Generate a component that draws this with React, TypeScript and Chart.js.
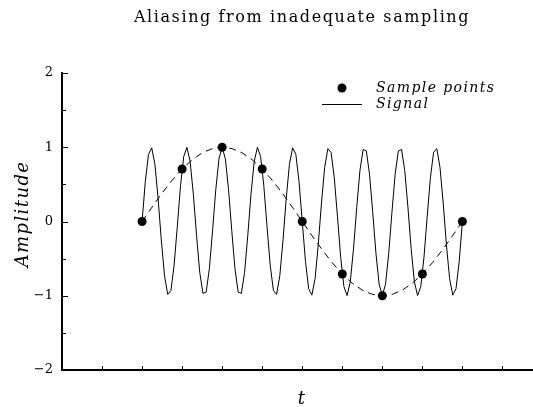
import React, { useEffect, useRef } from "react";
import { Chart, registerables } from "chart.js";

Chart.register(...registerables);

const titleText = "Aliasing from inadequate sampling";
const xTitle = "t";
const yTitle = "Amplitude";
const legendLabels = ["Sample points", "Signal"];

// sampled points
const sampleT = [0, 1, 2, 3, 4, 5, 6, 7, 8];
const sampleY = [0, 0.707, 1, 0.707, 0, -0.707, -1, -0.707, 0];

// high-frequency signal, read at a step of 0.08 in t
const signalStep = 0.08;
const signalY = [
  0, 0.536, 0.905, 0.992, 0.771, 0.309, -0.249, -0.729, -0.982, -0.93,
  -0.588, -0.063, 0.482, 0.876, 0.998, 0.809, 0.368, -0.187, -0.685, -0.969,
  -0.951, -0.637, -0.125, 0.426, 0.844, 1, 0.844, 0.426, -0.125, -0.637,
  -0.951, -0.969, -0.685, -0.187, 0.368, 0.809, 0.998, 0.876, 0.482, -0.063,
  -0.588, -0.93, -0.982, -0.729, -0.249, 0.309, 0.771, 0.992, 0.905, 0.536,
  0,
  -0.536, -0.905, -0.992, -0.771, -0.309, 0.249, 0.729, 0.982, 0.93,
  0.588, 0.063, -0.482, -0.876, -0.998, -0.809, -0.368, 0.187, 0.685, 0.969,
  0.951, 0.637, 0.125, -0.426, -0.844, -1, -0.844, -0.426, 0.125, 0.637,
  0.951, 0.969, 0.685, 0.187, -0.368, -0.809, -0.998, -0.876, -0.482, 0.063,
  0.588, 0.93, 0.982, 0.729, 0.249, -0.309, -0.771, -0.992, -0.905, -0.536,
  0,
];

// alias (dashed) curve
const aliasT = [
  0, 0.25, 0.5, 0.75, 1, 1.25, 1.5, 1.75, 2, 2.25, 2.5, 2.75, 3, 3.25, 3.5, 3.75,
  4, 4.25, 4.5, 4.75, 5, 5.25, 5.5, 5.75, 6, 6.25, 6.5, 6.75, 7, 7.25, 7.5, 7.75, 8,
];
const aliasY = [
  0, 0.195, 0.383, 0.556, 0.707, 0.831, 0.924, 0.981, 1, 0.981, 0.924, 0.831, 0.707,
  0.556, 0.383, 0.195, 0, -0.195, -0.383, -0.556, -0.707, -0.831, -0.924, -0.981, -1,
  -0.981, -0.924, -0.831, -0.707, -0.556, -0.383, -0.195, 0,
];

const xMin = -2;
const xMax = 10;
const xTickValues = [-1, 0, 1, 2, 3, 4, 5, 6, 7, 8, 9];
const yMajorTicks = [-2, -1, 0, 1, 2];
const yMinorTicks = [-1.5, -0.5, 0.5, 1.5];

const serif = "'DejaVu Serif', 'Liberation Serif', serif";

const decorPlugin = {
  id: "decor",
  afterDraw(chart: any) {
    const ctx = chart.ctx;
    const xs = chart.scales.x;
    const ys = chart.scales.y;
    const area = chart.chartArea;
    ctx.save();
    ctx.strokeStyle = "#000";
    ctx.lineWidth = 1;
    // inward x ticks
    xTickValues.forEach((v) => {
      const px = Math.round(xs.getPixelForValue(v)) + 0.5;
      ctx.beginPath();
      ctx.moveTo(px, area.bottom - 1);
      ctx.lineTo(px, area.bottom - 4);
      ctx.stroke();
    });
    // inward y ticks
    yMajorTicks.forEach((v) => {
      const py = Math.round(ys.getPixelForValue(v)) + 0.5;
      ctx.beginPath();
      ctx.moveTo(area.left + 1, py);
      ctx.lineTo(area.left + 6, py);
      ctx.stroke();
    });
    yMinorTicks.forEach((v) => {
      const py = Math.round(ys.getPixelForValue(v)) + 0.5;
      ctx.beginPath();
      ctx.moveTo(area.left + 1, py);
      ctx.lineTo(area.left + 4, py);
      ctx.stroke();
    });
    ctx.fillStyle = "#000";
    // title
    ctx.font = `16px ${serif}`;
    ctx.letterSpacing = "1.6px";
    ctx.textAlign = "center";
    ctx.textBaseline = "middle";
    ctx.fillText(titleText, 302, 18);
    // axis titles
    ctx.font = `italic 18px ${serif}`;
    ctx.letterSpacing = "1.4px";
    ctx.fillText(xTitle, 302, 399);
    ctx.save();
    ctx.translate(23, 214);
    ctx.rotate(-Math.PI / 2);
    ctx.fillText(yTitle, 0, 0);
    ctx.restore();
    // legend
    ctx.letterSpacing = "0px";
    ctx.beginPath();
    ctx.arc(342, 88, 4.5, 0, Math.PI * 2);
    ctx.fill();
    ctx.beginPath();
    ctx.moveTo(322, 104.5);
    ctx.lineTo(362, 104.5);
    ctx.stroke();
    ctx.font = `italic 14px ${serif}`;
    ctx.letterSpacing = "1.4px";
    ctx.textAlign = "left";
    ctx.fillText(legendLabels[0], 376, 88);
    ctx.fillText(legendLabels[1], 376, 104);
    ctx.restore();
  },
};

export default function App() {
  const ref = useRef<HTMLCanvasElement | null>(null);
  useEffect(() => {
    document.body.style.margin = "0";
    const canvas = ref.current;
    if (!canvas) return;
    const chart = new Chart(canvas, {
      type: "scatter",
      data: {
        datasets: [
          {
            label: legendLabels[0],
            data: sampleT.map((t, i) => ({ x: t, y: sampleY[i] })),
            pointRadius: 4.5,
            pointBackgroundColor: "#000",
            pointBorderColor: "#000",
            pointBorderWidth: 0,
            showLine: false,
            order: 0,
          },
          {
            label: legendLabels[1],
            data: signalY.map((y, i) => ({ x: i * signalStep, y })),
            showLine: true,
            borderColor: "#000",
            borderWidth: 1,
            pointRadius: 0,
            tension: 0,
            order: 1,
          },
          {
            label: "alias",
            data: aliasT.map((t, i) => ({ x: t, y: aliasY[i] })),
            showLine: true,
            borderColor: "#000",
            borderWidth: 1,
            borderDash: [7, 5],
            pointRadius: 0,
            tension: 0,
            order: 2,
          },
        ],
      },
      options: {
        animation: false,
        responsive: false,
        devicePixelRatio: 1,
        layout: { padding: { top: 73, left: 0, right: 0, bottom: 0 } },
        plugins: {
          legend: { display: false },
          title: { display: false },
          tooltip: { enabled: false },
        },
        scales: {
          x: {
            type: "linear",
            min: xMin,
            max: xMax,
            grid: { display: false, drawTicks: false },
            border: { display: true, color: "#000", width: 2 },
            ticks: { display: false },
            afterFit(s: any) {
              s.height = 37;
            },
          },
          y: {
            type: "linear",
            min: -2,
            max: 2,
            grid: { display: false, drawTicks: false },
            border: { display: true, color: "#000", width: 2 },
            ticks: {
              stepSize: 1,
              padding: 9,
              color: "#000",
              font: { family: serif, size: 13 },
              callback: (v: any) => String(v).replace("-", "\u2212"),
            },
            afterFit(s: any) {
              s.width = 62;
            },
          },
        },
      },
      plugins: [decorPlugin],
    });
    return () => chart.destroy();
  }, []);
  return (
    <div
      style={{
        position: "absolute",
        left: 0,
        top: 0,
        width: 533,
        height: 407,
        overflow: "hidden",
      }}
    >
      <canvas ref={ref} width={547} height={407} />
    </div>
  );
}
